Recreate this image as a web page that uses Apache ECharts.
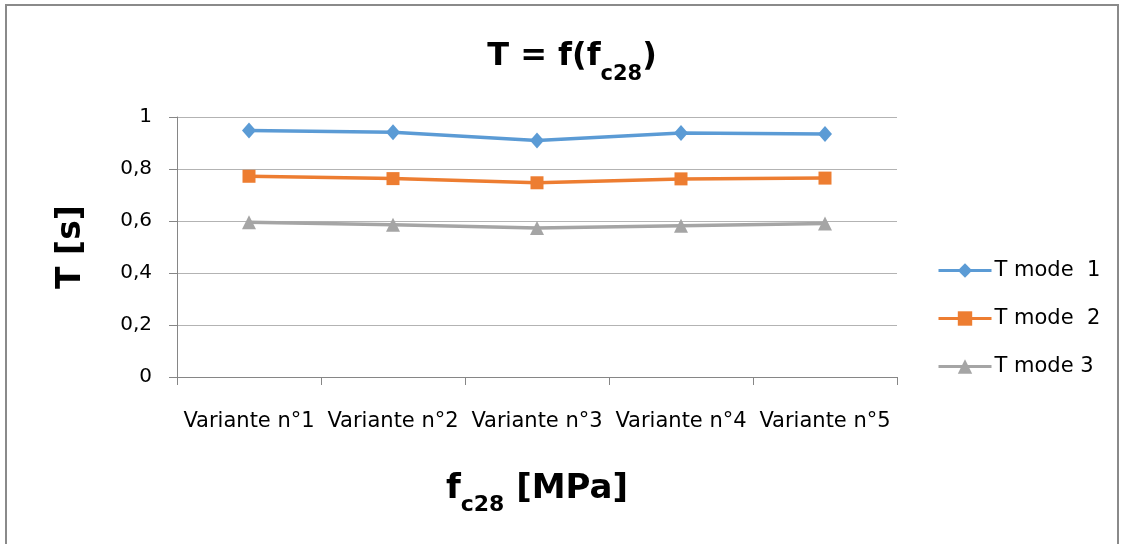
<!DOCTYPE html>
<html>
<head>
<meta charset="utf-8">
<script src="https://cdn.jsdelivr.net/npm/echarts@6/dist/echarts.min.js"></script>
<style>
  html, body { margin: 0; padding: 0; background: #fff; }
  #main { width: 1124px; height: 544px; }
</style>
</head>
<body>
<div id="main"></div>
<script>
// valeurs
var variantes = ["Variante n°1", "Variante n°2", "Variante n°3", "Variante n°4", "Variante n°5"];
var tMode1 = [0.948, 0.941, 0.910, 0.938, 0.935];
var tMode2 = [0.772, 0.763, 0.747, 0.762, 0.765];
var tMode3 = [0.595, 0.586, 0.573, 0.582, 0.590];
var yTicks = [0, 0.2, 0.4, 0.6, 0.8, 1];

var font = "DejaVu Sans";
var chart = echarts.init(document.getElementById("main"));

chart.setOption({
  animation: false,
  textStyle: { fontFamily: font },
  graphic: [{
    type: "rect",
    shape: { x: 6, y: 5, width: 1112, height: 600 },
    style: { fill: "none", stroke: "#8a8a8a", lineWidth: 2 }
  }],
  title: {
    text: "{a|T = f(f}{b|c28}{a|)}",
    left: 567,
    textAlign: "center",
    top: 36,
    textStyle: {
      rich: {
        a: { fontSize: 32, fontWeight: "bold", color: "#000", fontFamily: font, lineHeight: 44, verticalAlign: "top" },
        b: { fontSize: 21, fontWeight: "bold", color: "#000", fontFamily: font, lineHeight: 44, verticalAlign: "bottom", padding: [20, 0, 0, 0] }
      }
    }
  },
  grid: { left: 177, right: 227, top: 117, bottom: 167 },
  legend: {
    orient: "vertical",
    left: 937,
    top: 260,
    padding: 0,
    itemWidth: 53,
    itemHeight: 18,
    itemGap: 27,
    lineStyle: { width: 3 },
    textStyle: { fontSize: 21, color: "#000", fontFamily: font, padding: [0, 0, 0, -2] },
    data: ["T mode  1", "T mode  2", "T mode 3"]
  },
  xAxis: {
    type: "category",
    data: variantes,
    boundaryGap: true,
    name: "{a|f}{b|c28}{a| [MPa]}",
    nameLocation: "middle",
    nameGap: 95,
    nameTextStyle: {
      rich: {
        a: { fontSize: 34, fontWeight: "bold", color: "#000", fontFamily: font, lineHeight: 44, verticalAlign: "top" },
        b: { fontSize: 22, fontWeight: "bold", color: "#000", fontFamily: font, lineHeight: 44, verticalAlign: "bottom", padding: [16, 0, 0, 0] }
      }
    },
    axisLine: { lineStyle: { color: "#868686", width: 1 } },
    axisTick: { show: true, length: 8, alignWithLabel: false, lineStyle: { color: "#868686" } },
    axisLabel: { fontSize: 21, color: "#000", margin: 34, fontFamily: font, interval: 0 },
    splitLine: { show: false }
  },
  yAxis: {
    type: "value",
    min: 0,
    max: 1,
    interval: 0.2,
    name: "T [s]",
    nameLocation: "middle",
    nameGap: 89,
    nameRotate: 90,
    nameTextStyle: { fontSize: 33, fontWeight: "bold", color: "#000", fontFamily: font },
    axisLine: { show: true, lineStyle: { color: "#868686", width: 1 } },
    axisTick: { show: true, length: 8, lineStyle: { color: "#868686" } },
    axisLabel: {
      fontSize: 20, color: "#000", margin: 25, fontFamily: font,
      formatter: function (v) {
        var t = yTicks.find(function (x) { return Math.abs(x - v) < 1e-9; });
        return String(t === undefined ? v : t).replace(".", ",");
      }
    },
    splitLine: { show: true, lineStyle: { color: "#b3b3b3", width: 1 } }
  },
  series: [
    {
      name: "T mode  1", type: "line", data: tMode1,
      symbol: "diamond", symbolSize: [14, 16],
      lineStyle: { color: "#5b9bd5", width: 3.5 },
      itemStyle: { color: "#5b9bd5" }
    },
    {
      name: "T mode  2", type: "line", data: tMode2,
      symbol: "rect", symbolSize: 13,
      lineStyle: { color: "#ed7d31", width: 3.5 },
      itemStyle: { color: "#ed7d31" }
    },
    {
      name: "T mode 3", type: "line", data: tMode3,
      symbol: "triangle", symbolSize: 14,
      lineStyle: { color: "#a5a5a5", width: 3.5 },
      itemStyle: { color: "#a5a5a5" }
    }
  ]
});
</script>
</body>
</html>
